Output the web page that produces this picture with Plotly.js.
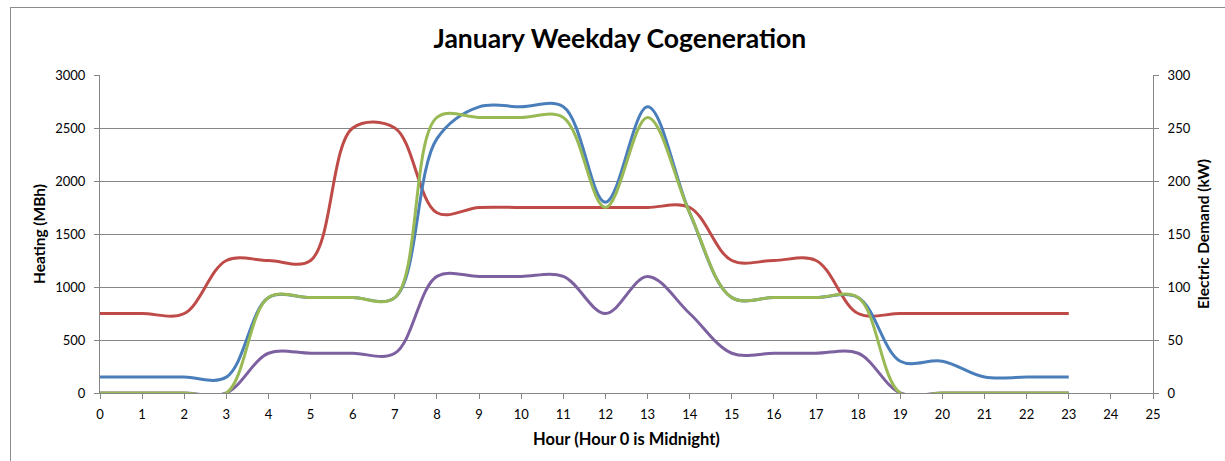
<!DOCTYPE html>
<html>
<head>
<meta charset="utf-8">
<script src="https://cdn.plot.ly/plotly-3.0.1.min.js"></script>
<style>
  html, body { margin: 0; padding: 0; background: #ffffff; }
  #chart { width: 1225px; height: 461px; }
  #frame { position: absolute; left: 10px; top: 7px; width: 1215px; height: 454px;
           border-top: 1px solid #8c8c8c; border-left: 1px solid #8c8c8c; pointer-events: none; }
</style>
</head>
<body>
<div id="chart"></div>
<div id="frame"></div>
<script>
// Hours of the day (0 = midnight)
var hours = [0,1,2,3,4,5,6,7,8,9,10,11,12,13,14,15,16,17,18,19,20,21,22,23];

// Heating series (MBh, left axis)
var heatingDemand = [750,750,750,1250,1250,1250,2500,2500,1700,1750,1750,1750,1750,1750,1750,1250,1250,1250,750,750,750,750,750,750];
var heatRecovered = [0,0,0,0,375,375,375,375,1100,1100,1100,1100,750,1100,750,375,375,375,375,0,0,0,0,0];

// Electric series (kW, right axis)
var electricDemand = [15,15,15,15,90,90,90,90,240,270,270,270,180,270,170,90,90,90,90,30,30,15,15,15];
var cogenElectric  = [0,0,0,0,90,90,90,90,260,260,260,260,175,260,170,90,90,90,90,0,0,0,0,0];

var FONT = 'Lato, "Open Sans", sans-serif';

function line(y, color, axis, name) {
  return {
    x: hours, y: y, type: 'scatter', mode: 'lines', name: name, yaxis: axis,
    line: { color: color, width: 3, shape: 'spline', smoothing: 1 },
    hoverinfo: 'x+y'
  };
}

var data = [
  line(heatingDemand, '#BE4B48', 'y', 'Heating Demand'),
  line(heatRecovered, '#7D60A0', 'y', 'Heat Recovered'),
  line(electricDemand, '#4A7EBB', 'y2', 'Electric Demand'),
  line(cogenElectric, '#98B954', 'y2', 'Cogen Electric')
];

var axisCommon = {
  showline: true, linecolor: '#868686', linewidth: 1,
  ticks: 'outside', ticklen: 5, tickcolor: '#868686', tickwidth: 1,
  zeroline: false, fixedrange: true,
  tickfont: { family: FONT, size: 13, color: '#000000' }
};

var layout = {
  width: 1225, height: 461,
  margin: { l: 100, r: 72, t: 75, b: 68 },
  paper_bgcolor: '#ffffff', plot_bgcolor: '#ffffff',
  showlegend: false,
  font: { family: FONT, color: '#000000' },
  title: {
    text: '<b>January Weekday Cogeneration</b>',
    font: { family: FONT, size: 26.5, color: '#000000' },
    x: 0.506, xref: 'container', xanchor: 'center',
    y: 0.917, yref: 'container', yanchor: 'middle'
  },
  xaxis: Object.assign({}, axisCommon, {
    range: [0, 25], tick0: 0, dtick: 1, showgrid: false,
    ticklabelstandoff: 4,
    title: { text: '<b>Hour (Hour 0 is Midnight)</b>', font: { family: FONT, size: 16.5, color: '#000000' }, standoff: 12 }
  }),
  yaxis: Object.assign({}, axisCommon, {
    range: [0, 3000], tick0: 0, dtick: 500,
    showgrid: true, gridcolor: '#868686', gridwidth: 1,
    ticklabelstandoff: 6,
    title: { text: '<b>Heating (MBh)</b>', font: { family: FONT, size: 15.5, color: '#000000' }, standoff: 5 }
  }),
  yaxis2: Object.assign({}, axisCommon, {
    range: [0, 300], tick0: 0, dtick: 50, showgrid: false,
    overlaying: 'y', side: 'right', anchor: 'x',
    ticklabelstandoff: 6,
    title: { text: '<b>Electric Demand (kW)</b>', font: { family: FONT, size: 15.5, color: '#000000' }, standoff: 8 }
  })
};

Plotly.newPlot('chart', data, layout, { staticPlot: true, displayModeBar: false });
</script>
</body>
</html>
